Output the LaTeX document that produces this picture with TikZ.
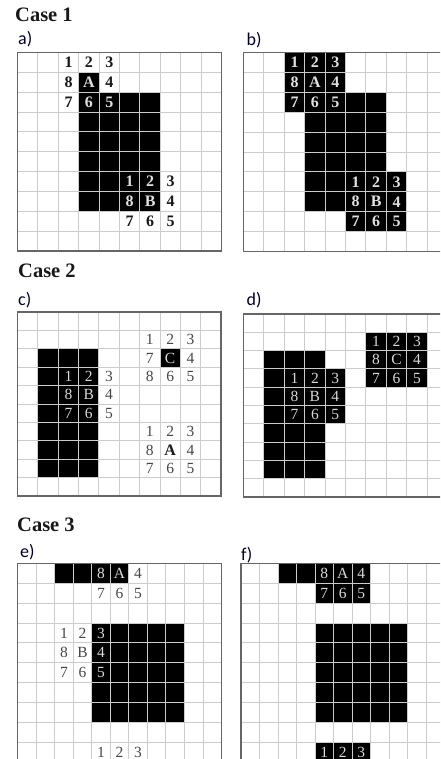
\documentclass[tikz,border=0pt]{standalone}
\usepackage{fontspec}
\setmainfont{Liberation Serif}
\newfontfamily\lblfont{Carlito}
\begin{document}
\begin{tikzpicture}[x=1pt,y=-1pt,
  blk/.style={fill=black},
  gridl/.style={draw=gray!40,line width=0.9pt},
  frame/.style={draw=gray!80!black,line width=1.3pt},
  casel/.style={anchor=base west,inner sep=0pt,font=\fontsize{20.5}{24}\selectfont\bfseries,text=black!90},
  panl/.style={anchor=base west,inner sep=0pt,font=\lblfont\fontsize{18}{20}\selectfont,text=black!85!blue},
  wb/.style={inner sep=0pt,font=\fontsize{16}{18}\selectfont\bfseries,text=black!90},
  kb/.style={inner sep=0pt,font=\fontsize{16}{18}\selectfont\bfseries,text=white!88!black},
  wr/.style={inner sep=0pt,font=\fontsize{15.5}{17}\selectfont,text=black!72},
  kr/.style={inner sep=0pt,font=\fontsize{15.5}{17}\selectfont,text=white!85!black}]
\useasboundingbox (0,0) rectangle (440,759);
\fill[white] (0,0) rectangle (440,759);
\clip (0,0) rectangle (440,759);

% ---------- titles ----------
\node[casel] (case1) at (15,21.5) {Case 1};
\node[casel] (case2) at (18,277.7) {Case 2};
\node[casel] (case3) at (17,531.7) {Case 3};
\node[panl] (la) at (18,45) {a)};
\node[panl] (lb) at (246.5,46) {b)};
\node[panl] (lc) at (18,305.5) {c)};
\node[panl] (ld) at (246.5,305) {d)};
\node[panl] (le) at (20,557) {e)};
\node[panl] (lf) at (241,560) {f)};

% ---------- panel a ----------
\begin{scope}[shift={(17.5pt,-52.5pt)},x=20.4pt,y=-19.85pt]
  \begin{scope}
  \clip (0,0) rectangle (10,10);
  \fill[blk] (3,1) rectangle (4,2);
  \fill[blk] (3,2) rectangle (7,8);
  \foreach \i in {1,...,9} {\draw[gridl] (\i,0) -- (\i,10); \draw[gridl] (0,\i) -- (10,\i);}
  \end{scope}
  \foreach \c/\r/\t in {2/0/1,3/0/2,4/0/3,2/1/8,4/1/4,2/2/7,7/6/3,7/7/4,5/8/7,6/8/6,7/8/5}
    \node[wb] (a-\c-\r) at (\c+0.5,\r+0.5) {\t};
  \foreach \c/\r/\t in {3/1/A,3/2/6,4/2/5,5/6/1,6/6/2,5/7/8,6/7/B}
    \node[kb] (a-\c-\r) at (\c+0.5,\r+0.5) {\t};
  \draw[frame] (0,0) rectangle (10,10);
\end{scope}

% ---------- panel b ----------
\begin{scope}[shift={(243.5pt,-52.5pt)},x=20.4pt,y=-19.9pt]
  \begin{scope}
  \clip (0,0) rectangle (10,10);
  \fill[blk] (2,0) rectangle (5,3);
  \fill[blk] (3,2) rectangle (7,8);
  \fill[blk] (5,6) rectangle (8,9);
  \foreach \i in {1,...,9} {\draw[gridl] (\i,0) -- (\i,10); \draw[gridl] (0,\i) -- (10,\i);}
  \end{scope}
  \foreach \c/\r/\t in {2/0/1,3/0/2,4/0/3,2/1/8,3/1/A,4/1/4,2/2/7,3/2/6,4/2/5,
                        5/6/1,6/6/2,7/6/3,5/7/8,6/7/B,7/7/4,5/8/7,6/8/6,7/8/5}
    \node[kb] (b-\c-\r) at (\c+0.5,\r+0.5) {\t};
  \draw[frame] (0,0) rectangle (10,10);
\end{scope}

% ---------- panel c ----------
\begin{scope}[shift={(17.5pt,-312pt)},x=20.35pt,y=-18.4pt]
  \begin{scope}
  \clip (0,0) rectangle (10,10);
  \fill[blk] (1,2) rectangle (4,9);
  \fill[blk] (7,2) rectangle (8,3);
  \foreach \i in {1,...,9} {\draw[gridl] (\i,0) -- (\i,10); \draw[gridl] (0,\i) -- (10,\i);}
  \end{scope}
  \foreach \c/\r/\t in {6/1/1,7/1/2,8/1/3,6/2/7,8/2/4,6/3/8,7/3/6,8/3/5,
                        4/3/3,4/4/4,4/5/5,
                        6/6/1,7/6/2,8/6/3,6/7/8,8/7/4,6/8/7,7/8/6,8/8/5}
    \node[wr] (c-\c-\r) at (\c+0.5,\r+0.5) {\t};
  \node[wb] (c-7-7) at (7.5,7.5) {A};
  \foreach \c/\r/\t in {7/2/C,2/3/1,3/3/2,2/4/8,3/4/B,2/5/7,3/5/6}
    \node[kr] (c-\c-\r) at (\c+0.5,\r+0.5) {\t};
  \draw[frame] (0,0) rectangle (10,10);
\end{scope}

% ---------- panel d ----------
\begin{scope}[shift={(243.5pt,-314pt)},x=20.4pt,y=-18.3pt]
  \begin{scope}
  \clip (0,0) rectangle (10,10);
  \fill[blk] (1,2) rectangle (4,9);
  \fill[blk] (4,3) rectangle (5,6);
  \fill[blk] (6,1) rectangle (9,4);
  \foreach \i in {1,...,9} {\draw[gridl] (\i,0) -- (\i,10); \draw[gridl] (0,\i) -- (10,\i);}
  \end{scope}
  \foreach \c/\r/\t in {6/1/1,7/1/2,8/1/3,6/2/8,7/2/C,8/2/4,6/3/7,7/3/6,8/3/5,
                        2/3/1,3/3/2,4/3/3,2/4/8,3/4/B,4/4/4,2/5/7,3/5/6,4/5/5}
    \node[kr] (d-\c-\r) at (\c+0.5,\r+0.5) {\t};
  \draw[frame] (0,0) rectangle (10,10);
\end{scope}

% ---------- panel e ----------
\begin{scope}[shift={(17.5pt,-563.5pt)},x=18.55pt,y=-19.85pt]
  \begin{scope}
  \clip (0,0) rectangle (11,11);
  \fill[blk] (2,0) rectangle (6,1);
  \fill[blk] (4,3) rectangle (9,8);
  \foreach \i in {1,...,10} {\draw[gridl] (\i,0) -- (\i,11); \draw[gridl] (0,\i) -- (11,\i);}
  \end{scope}
  \foreach \c/\r/\t in {6/0/4,4/1/7,5/1/6,6/1/5,2/3/1,3/3/2,2/4/8,3/4/B,2/5/7,3/5/6,4/9/1,5/9/2,6/9/3}
    \node[wr] (e-\c-\r) at (\c+0.5,\r+0.5) {\t};
  \foreach \c/\r/\t in {4/0/8,5/0/A,4/3/3,4/4/4,4/5/5}
    \node[kr] (e-\c-\r) at (\c+0.5,\r+0.5) {\t};
  \draw[frame] (0,0) rectangle (11,11);
\end{scope}

% ---------- panel f ----------
\begin{scope}[shift={(241pt,-563.5pt)},x=18.5pt,y=-19.85pt]
  \begin{scope}
  \clip (0,0) rectangle (11,11);
  \fill[blk] (2,0) rectangle (7,1);
  \fill[blk] (4,1) rectangle (7,2);
  \fill[blk] (4,3) rectangle (9,8);
  \fill[blk] (4,9) rectangle (7,10);
  \foreach \i in {1,...,10} {\draw[gridl] (\i,0) -- (\i,11); \draw[gridl] (0,\i) -- (11,\i);}
  \end{scope}
  \foreach \c/\r/\t in {4/0/8,5/0/A,6/0/4,4/1/7,5/1/6,6/1/5,4/9/1,5/9/2,6/9/3}
    \node[kr] (f-\c-\r) at (\c+0.5,\r+0.5) {\t};
  \draw[frame] (0,0) rectangle (11,11);
\end{scope}
\end{tikzpicture}
\end{document}
